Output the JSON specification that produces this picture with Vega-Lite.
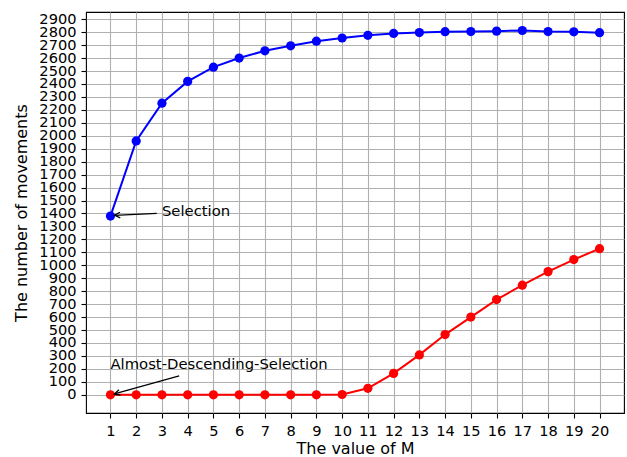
{
  "$schema": "https://vega.github.io/schema/vega-lite/v6.json",
  "width": 538,
  "height": 401,
  "autosize": "none",
  "padding": {"left": 86, "top": 12, "right": 3, "bottom": 44},
  "background": "white",
  "config": {
    "font": "DejaVu Sans",
    "view": {"stroke": "black", "strokeWidth": 1.1},
    "axis": {
      "labelFont": "DejaVu Sans",
      "titleFont": "DejaVu Sans",
      "labelFontSize": 14.6,
      "titleFontSize": 16,
      "titleFontWeight": "normal",
      "labelColor": "#000000",
      "titleColor": "#000000",
      "tickColor": "#000000",
      "tickSize": 5,
      "tickWidth": 1.1,
      "domain": false,
      "gridColor": "#b0b0b0",
      "gridWidth": 1.1,
      "gridOpacity": 1,
      "labelPadding": 5
    }
  },
  "datasets": {
    "series": [
      {"M": 1, "moves": 1380, "algo": "Selection"},
      {"M": 2, "moves": 1960, "algo": "Selection"},
      {"M": 3, "moves": 2252, "algo": "Selection"},
      {"M": 4, "moves": 2420, "algo": "Selection"},
      {"M": 5, "moves": 2530, "algo": "Selection"},
      {"M": 6, "moves": 2600, "algo": "Selection"},
      {"M": 7, "moves": 2656, "algo": "Selection"},
      {"M": 8, "moves": 2695, "algo": "Selection"},
      {"M": 9, "moves": 2730, "algo": "Selection"},
      {"M": 10, "moves": 2755, "algo": "Selection"},
      {"M": 11, "moves": 2776, "algo": "Selection"},
      {"M": 12, "moves": 2790, "algo": "Selection"},
      {"M": 13, "moves": 2797, "algo": "Selection"},
      {"M": 14, "moves": 2804, "algo": "Selection"},
      {"M": 15, "moves": 2805, "algo": "Selection"},
      {"M": 16, "moves": 2808, "algo": "Selection"},
      {"M": 17, "moves": 2813, "algo": "Selection"},
      {"M": 18, "moves": 2805, "algo": "Selection"},
      {"M": 19, "moves": 2803, "algo": "Selection"},
      {"M": 20, "moves": 2796, "algo": "Selection"},
      {"M": 1, "moves": 0, "algo": "Almost-Descending-Selection"},
      {"M": 2, "moves": 0, "algo": "Almost-Descending-Selection"},
      {"M": 3, "moves": 0, "algo": "Almost-Descending-Selection"},
      {"M": 4, "moves": 0, "algo": "Almost-Descending-Selection"},
      {"M": 5, "moves": 0, "algo": "Almost-Descending-Selection"},
      {"M": 6, "moves": 0, "algo": "Almost-Descending-Selection"},
      {"M": 7, "moves": 0, "algo": "Almost-Descending-Selection"},
      {"M": 8, "moves": 0, "algo": "Almost-Descending-Selection"},
      {"M": 9, "moves": 0, "algo": "Almost-Descending-Selection"},
      {"M": 10, "moves": 2, "algo": "Almost-Descending-Selection"},
      {"M": 11, "moves": 50, "algo": "Almost-Descending-Selection"},
      {"M": 12, "moves": 165, "algo": "Almost-Descending-Selection"},
      {"M": 13, "moves": 308, "algo": "Almost-Descending-Selection"},
      {"M": 14, "moves": 465, "algo": "Almost-Descending-Selection"},
      {"M": 15, "moves": 600, "algo": "Almost-Descending-Selection"},
      {"M": 16, "moves": 735, "algo": "Almost-Descending-Selection"},
      {"M": 17, "moves": 846, "algo": "Almost-Descending-Selection"},
      {"M": 18, "moves": 951, "algo": "Almost-Descending-Selection"},
      {"M": 19, "moves": 1044, "algo": "Almost-Descending-Selection"},
      {"M": 20, "moves": 1128, "algo": "Almost-Descending-Selection"}
    ],
    "notes": [
      {"label": "Selection", "tx": 3.0, "ty": 1380, "sx": 2.80, "sy": 1401, "ex": 1.16, "ey": 1386},
      {"label": "Almost-Descending-Selection", "tx": 1.0, "ty": 200, "sx": 3.67, "sy": 146, "ex": 1.15, "ey": 6}
    ]
  },
  "encoding": {
    "x": {
      "type": "quantitative",
      "scale": {"domain": [0.05, 20.95], "nice": false, "zero": false},
      "axis": {
        "title": "The value of M",
        "format": "d",
        "values": [1,2,3,4,5,6,7,8,9,10,11,12,13,14,15,16,17,18,19,20],
        "titlePadding": 3
      }
    },
    "y": {
      "type": "quantitative",
      "scale": {"domain": [-140.75, 2955.75], "nice": false, "zero": false},
      "axis": {
        "title": "The number of movements",
        "format": "d",
        "values": [0,100,200,300,400,500,600,700,800,900,1000,1100,1200,1300,1400,1500,1600,1700,1800,1900,2000,2100,2200,2300,2400,2500,2600,2700,2800,2900],
        "titlePadding": 9,
        "labelOverlap": false
      }
    }
  },
  "layer": [
    {
      "data": {"name": "series"},
      "mark": {"type": "line", "strokeWidth": 2, "point": {"filled": true, "size": 85, "opacity": 1}},
      "encoding": {
        "x": {"field": "M"},
        "y": {"field": "moves"},
        "color": {
          "field": "algo",
          "type": "nominal",
          "scale": {"domain": ["Selection", "Almost-Descending-Selection"], "range": ["#0000ff", "#ff0000"]},
          "legend": null
        }
      }
    },
    {
      "data": {"name": "notes"},
      "mark": {"type": "rule", "color": "#000000", "strokeWidth": 1.3},
      "encoding": {
        "x": {"field": "sx"},
        "y": {"field": "sy"},
        "x2": {"field": "ex"},
        "y2": {"field": "ey"}
      }
    },
    {
      "data": {"name": "notes"},
      "transform": [{"filter": "datum.label == 'Selection'"}],
      "mark": {"type": "point", "shape": "M1,-0.5L0,0L1,0.5", "filled": false, "stroke": "#000000", "strokeWidth": 1.3, "size": 125, "angle": 357.3, "opacity": 1},
      "encoding": {
        "x": {"field": "ex"},
        "y": {"field": "ey"}
      }
    },
    {
      "data": {"name": "notes"},
      "transform": [{"filter": "datum.label != 'Selection'"}],
      "mark": {"type": "point", "shape": "M1,-0.5L0,0L1,0.5", "filled": false, "stroke": "#000000", "strokeWidth": 1.3, "size": 125, "angle": 344.3, "opacity": 1},
      "encoding": {
        "x": {"field": "ex"},
        "y": {"field": "ey"}
      }
    },
    {
      "data": {"name": "notes"},
      "mark": {"type": "text", "align": "left", "baseline": "alphabetic", "fontSize": 14.8, "font": "DejaVu Sans", "color": "#000000"},
      "encoding": {
        "x": {"field": "tx"},
        "y": {"field": "ty"},
        "text": {"field": "label"}
      }
    }
  ]
}
